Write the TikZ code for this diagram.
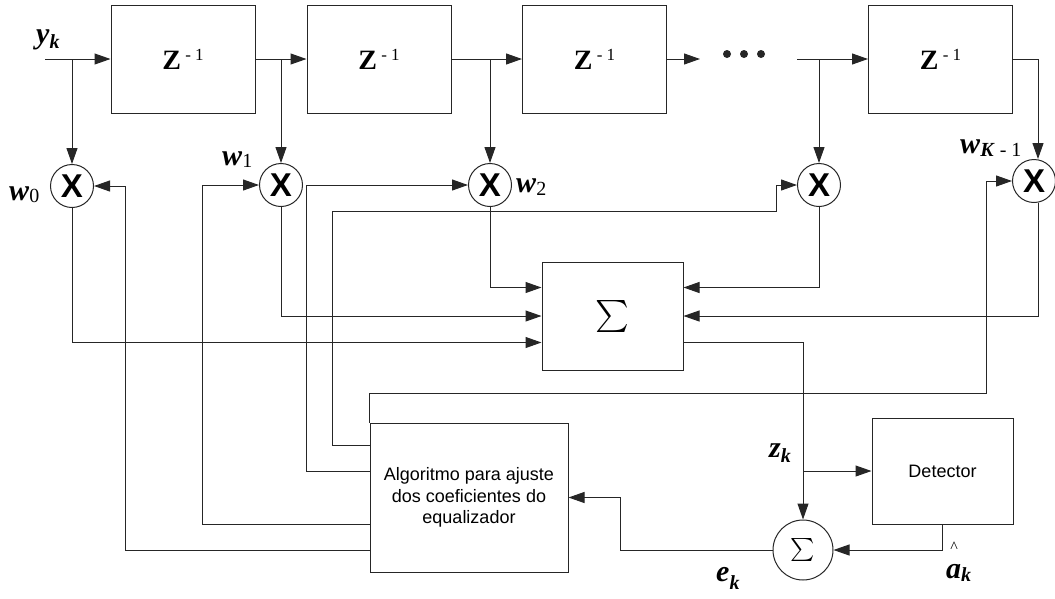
\documentclass[tikz,border=0pt]{standalone}
\usepackage{fontspec}
\setmainfont{Liberation Serif}
\newfontfamily\arial{Liberation Sans}
\usetikzlibrary{arrows.meta,calc}

\tikzset{
  sig/.style={draw=black!85, line width=1pt, -{Triangle[length=16pt,width=11pt]}},
  wire/.style={draw=black!85, line width=1pt},
  delaybox/.style={draw=black!85, line width=1pt, minimum width=144pt, minimum height=108pt,
    inner sep=0pt, font=\fontsize{28}{28}\selectfont},
  mult/.style={draw=black!85, line width=1pt, circle, minimum size=43pt, inner sep=0pt,
    font=\arial\bfseries\fontsize{33}{33}\selectfont},
  blk/.style={draw=black!85, line width=1pt, inner sep=0pt, align=center,
    font=\arial\fontsize{18}{21.7}\selectfont},
  lbl/.style={inner sep=0pt, anchor=base west, font=\fontsize{30}{30}\selectfont},
}
\newcommand{\zinv}{{\bfseries Z}\raisebox{9pt}{\fontsize{17}{17}\selectfont\ - 1}}
\newcommand{\wsub}[3][3pt]{\textbf{\textit{#2}}\raisebox{-#1}{\fontsize{20}{20}\selectfont #3}}
\newcommand{\kk}{\textbf{\textit{k}}}

\begin{document}
\begin{tikzpicture}[x=1pt,y=-1pt]
\useasboundingbox (0,0) rectangle (1055,598);

% delay line
\node[delaybox] (D1) at (183,59) {\zinv};
\node[delaybox] (D2) at (379,59) {\zinv};
\node[delaybox] (D3) at (594.5,59) {\zinv};
\node[delaybox] (D4) at (940.5,59) {\zinv};
\coordinate (yin) at (45,59);
\coordinate (dotsin) at (700,59);
\coordinate (dotsout) at (797,59);
\coordinate (t4) at (1038,59);
\foreach \x in {727,744,761}
  \fill[black!85] (\x,54) circle (4);

% multipliers
\node[mult] (M0) at (72,186) {X};
\node[mult] (M1) at (281,185) {X};
\node[mult] (M2) at (490,185) {X};
\node[mult] (M3) at (819,185) {X};
\node[mult] (M4) at (1034,181) {X};

\node[blk, minimum width=141pt, minimum height=108pt] (SumB) at (612.5,316) {\scalebox{3.2}{$\sum$}};
\node[blk, minimum width=198pt, minimum height=149pt] (Alg) at (469,497.5)
  {Algoritmo para ajuste\\dos coeficientes do\\equalizador};
\node[blk, minimum width=141pt, minimum height=106pt] (Det) at (942.5,471) {Detector};
\node[blk, circle, minimum size=60pt] (S2) at (803,550) {\scalebox{2.3}{$\sum$}};

\draw[sig] (yin) -- (D1.west);
\draw[sig] (D1.east) -- (D2.west);
\draw[sig] (D2.east) -- (D3.west);
\draw[sig] (D3.east) -- (dotsin);
\draw[sig] (dotsout) -- (D4.west);
\draw[wire] (D4.east) -- (t4);
\draw[sig] (yin -| M0) -- (M0.north);
\draw[sig] (D1.east -| M1) -- (M1.north);
\draw[sig] (D2.east -| M2) -- (M2.north);
\draw[sig] (dotsout -| M3) -- (M3.north);
\draw[sig] (t4) -- (t4 |- M4.north);

% products into the adder
\draw[sig] (M0.south) |- ($(SumB.south west)+(0,-28)$);
\draw[sig] (M1.south) |- (SumB.west);
\draw[sig] (M2.south) |- ($(SumB.north west)+(0,26)$);
\draw[sig] (M3.south) |- ($(SumB.north east)+(0,26)$);
\draw[sig] (t4 |- M4.south) |- (SumB.east);

\draw[sig] ($(SumB.south east)+(0,-28)$) -| (S2.north);
\coordinate (zk) at (S2.north |- Det.west);
\draw[sig] (zk) -- (Det.west);
\draw[sig] (Det.south) |- (S2.east);
\draw[sig] (S2.west) -| ($(Alg.east)+(52,0)$) -- (Alg.east);

% coefficient updates
\draw[sig] ($(Alg.south west)+(0,-22)$) -| ($(M0.east)+(31,0)$) -- (M0.east);
\draw[sig] ($(Alg.south west)+(0,-48)$) -| ($(M1.west)+(-57,0)$) -- (M1.west);
\draw[sig] ($(Alg.north west)+(0,49)$) -| ($(M2.west)+(-162,0)$) -- (M2.west);
\draw[sig] ($(Alg.north west)+(0,23)$) -- ++(-37,0) |- ($(M3.west)+(-21,26)$) |- (M3.west);
\draw[sig] (Alg.north west) |- ($(M4.west)+(-26,212)$) |- (M4.west);

% labels
\node[lbl] (lyk) at (36,43) {\wsub[5pt]{y}{\kk}};
\node[lbl] (lw0) at (9,200) {\wsub[2pt]{w}{0}};
\node[lbl] (lw1) at (222,165) {\wsub[2pt]{w}{1}};
\node[lbl] (lw2) at (516,192) {\wsub{w}{2}};
\node[lbl] (lwk) at (960,153) {\wsub{w}{\textbf{\textit{K}} - 1}};
\node[lbl] (lzk) at (769,457) {\wsub[5pt]{z}{\kk}};
\node[lbl] (lek) at (716,581) {\wsub[8pt]{e}{\kk}};
\node[lbl] (lak) at (946,578) {\wsub{a}{\kk}};
\node[inner sep=0pt, font=\fontsize{16}{16}\selectfont] (hat) at (954,547) {\textasciicircum};
\end{tikzpicture}
\end{document}
